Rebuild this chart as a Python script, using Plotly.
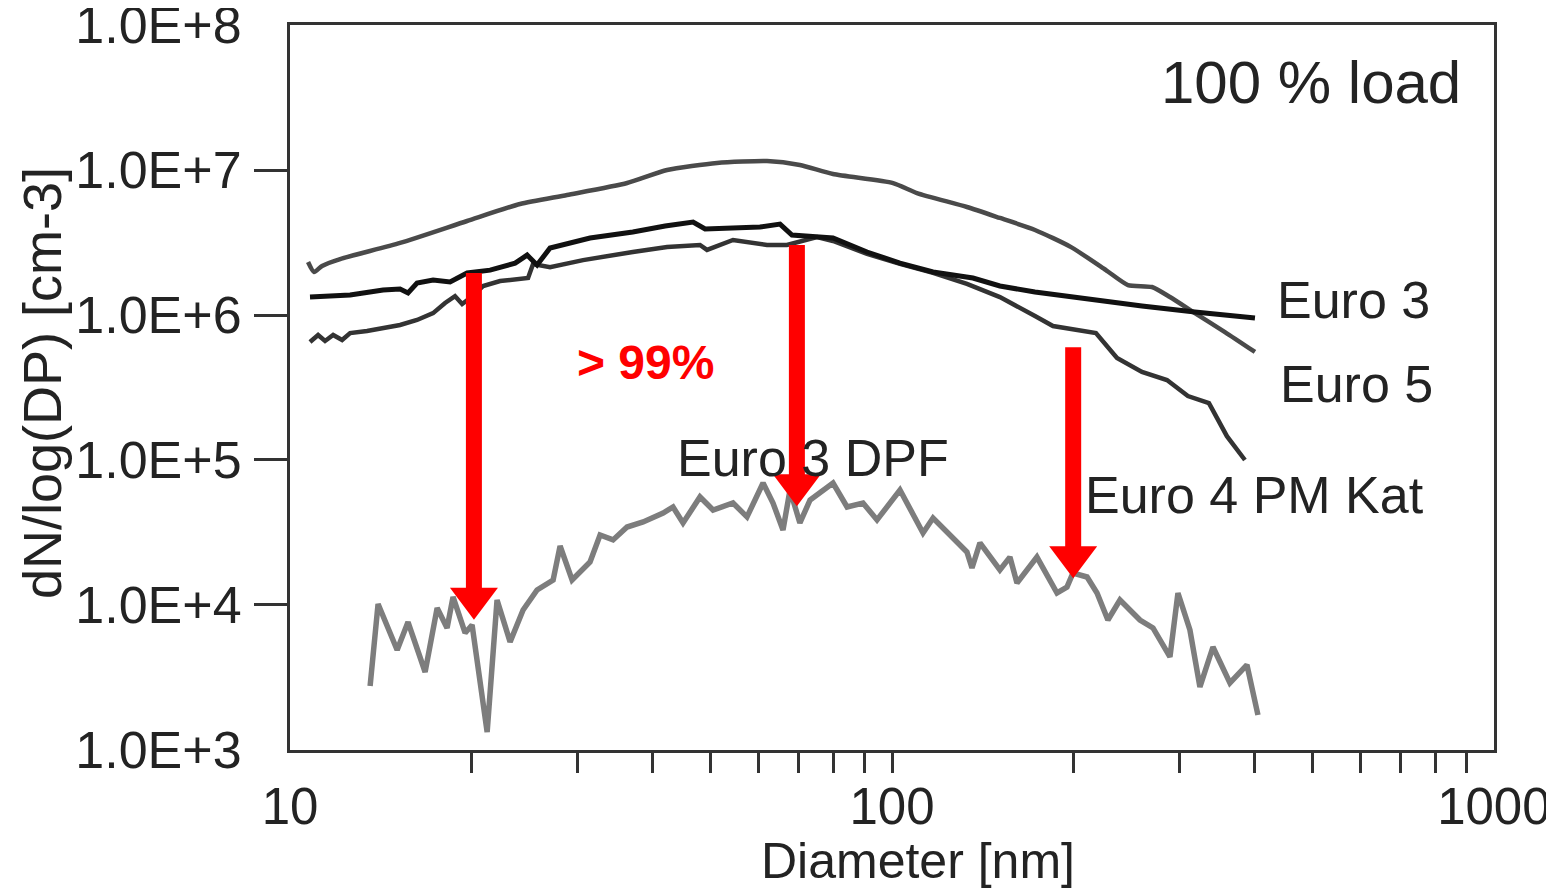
import plotly.graph_objects as go

# ---------------- data ----------------
e5_d = [10.71, 10.96, 11.30, 12.11, 15.23, 19.68, 24.1, 28.85, 36.3, 42.3, 51.2, 62.0, 70.3,
        79.8, 100.4, 110.0, 133.2, 151.1, 172.8, 198.4, 226.7, 246.6, 270.3, 289.6, 318.6,
        357.4, 400.9]
e5_n = [2.32e6, 1.98e6, 2.18e6, 2.43e6, 3.14e6, 4.45e6, 5.83e6, 6.72e6, 8.13e6, 1.0e7,
        1.118e7, 1.154e7, 1.083e7, 9.38e6, 8.13e6, 6.94e6, 5.56e6, 4.67e6, 3.86e6, 2.94e6,
        2.04e6, 1.61e6, 1.56e6, 1.33e6, 1.03e6, 7.63e5, 5.56e5]

e3_d = [10.79, 12.58, 14.27, 15.23, 15.70, 16.25, 17.28, 18.44, 19.68, 21.49, 23.65, 24.76,
        25.72, 27.03, 31.5, 37.1, 41.98, 46.72, 48.92, 54.43, 60.35, 65.16, 68.2, 79.8, 90.9,
        103.1, 117.0, 136.3, 151.1, 172.8, 198.4, 260.2, 318.6, 400.9]
e3_n = [1.33e6, 1.373e6, 1.487e6, 1.51e6, 1.42e6, 1.66e6, 1.743e6, 1.69e6, 1.95e6, 2.04e6,
        2.28e6, 2.59e6, 2.21e6, 2.90e6, 3.40e6, 3.74e6, 4.11e6, 4.38e6, 3.92e6, 3.98e6,
        4.04e6, 4.24e6, 3.56e6, 3.40e6, 2.72e6, 2.28e6, 1.98e6, 1.80e6, 1.585e6, 1.44e6,
        1.33e6, 1.154e6, 1.049e6, 9.54e5]

e4_d = [10.79, 11.13, 11.43, 11.79, 12.20, 12.58, 13.42, 14.27, 15.23, 16.25, 17.28, 18.09,
        18.79, 19.31, 19.91, 20.92, 22.33, 24.85, 25.33, 27.03, 30.67, 37.1, 42.3, 47.97,
        49.28, 54.43, 62.0, 66.9, 75.07, 79.8, 90.9, 103.1, 117.0, 133.2, 151.1, 172.8,
        185.1, 218.2, 236.5, 260.2, 286.3, 310.2, 336.2, 360.1, 385.8]
e4_n = [6.51e5, 7.28e5, 6.62e5, 7.28e5, 6.72e5, 7.51e5, 7.76e5, 8.14e5, 8.53e5, 9.24e5,
        1.03e6, 1.21e6, 1.35e6, 1.19e6, 1.31e6, 1.585e6, 1.716e6, 1.80e6, 2.25e6, 2.14e6,
        2.39e6, 2.72e6, 2.94e6, 3.04e6, 2.81e6, 3.29e6, 3.04e6, 3.04e6, 3.45e6, 3.24e6,
        2.64e6, 2.25e6, 1.95e6, 1.64e6, 1.33e6, 9.84e5, 8.40e5, 7.51e5, 5.05e5, 4.05e5,
        3.56e5, 2.76e5, 2.47e5, 1.46e5, 1.0e5]

dpf_d = [13.58, 14.00, 15.06, 15.70, 16.76, 17.55, 18.23, 18.65, 19.53, 20.06, 21.25, 22.07,
         23.20, 24.38, 25.72, 27.35, 28.09, 29.41, 31.50, 32.73, 34.40, 36.29, 38.59, 41.66,
         43.27, 44.96, 47.97, 50.43, 54.43, 57.42, 61.06, 63.43, 65.90, 67.69, 70.3, 73.09,
         79.8, 84.21, 89.51, 94.43, 103.1, 112.6, 117.0, 133.2, 135.8, 140.0, 151.1, 157.0,
         161.3, 174.1, 188.0, 195.3, 199.8, 210.9, 219.1, 228.4, 239.2, 258.2, 271.4, 289.6,
         298.6, 312.6, 324.8, 341.4, 364.3, 388.8, 405.5]
dpf_n = [2.76e3, 1.016e4, 4.89e3, 7.63e3, 3.45e3, 9.54e3, 6.94e3, 1.136e4, 6.41e3, 7.28e3,
         1.33e3, 1.083e4, 5.56e3, 9.24e3, 1.269e4, 1.487e4, 2.55e4, 1.487e4, 1.98e4, 3.04e4,
         2.81e4, 3.45e4, 3.74e4, 4.31e4, 4.74e4, 3.68e4, 5.56e4, 4.52e4, 5.05e4, 4.05e4,
         6.94e4, 5.05e4, 3.29e4, 6.21e4, 3.68e4, 5.30e4, 6.94e4, 4.74e4, 5.05e4, 3.86e4,
         6.21e4, 3.14e4, 3.98e4, 2.32e4, 1.80e4, 2.68e4, 1.743e4, 2.14e4, 1.418e4, 2.14e4,
         1.21e4, 1.33e4, 1.66e4, 1.56e4, 1.21e4, 7.88e3, 1.083e4, 7.88e3, 6.94e3, 4.38e3,
         1.21e4, 6.72e3, 2.72e3, 5.13e3, 2.90e3, 3.86e3, 1.743e3]

# reduction arrows
arrow_d = [20.2, 69.5, 200.0]
arrow_top = [1.95e6, 3.04e6, 6.0e5]
arrow_shaft_end = [1.02e4, 6.19e4, 1.97e4]
arrow_tip = [7.9e3, 4.8e4, 1.53e4]

x_tickvals = [10, 100, 1000]
x_ticktext = ["10", "100", "1000"]
x_minor = [20, 30, 40, 50, 60, 70, 80, 90, 100, 200, 300, 400, 500, 600, 700, 800, 900]
y_tickvals = [1e3, 1e4, 1e5, 1e6, 1e7, 1e8]
y_ticktext = ["1.0E+3", "1.0E+4", "1.0E+5", "1.0E+6", "1.0E+7", "1.0E+8"]
y_marks = [1e4, 1e5, 1e6, 1e7]

FONT = "Liberation Sans, Arial, sans-serif"
TXT = "#232323"
AX = "#333333"
XR = [0.9998, 3.0002]
YR = [2.9998, 8.0002]

fig = go.Figure()
fig.add_trace(go.Scatter(x=dpf_d, y=dpf_n, mode="lines",
                         line=dict(color="#7d7d7d", width=5.5), hoverinfo="skip"))
fig.add_trace(go.Scatter(x=e5_d, y=e5_n, mode="lines",
                         line=dict(color="#4a4a4a", width=4.5, shape="spline", smoothing=0.6),
                         hoverinfo="skip"))
fig.add_trace(go.Scatter(x=e4_d, y=e4_n, mode="lines",
                         line=dict(color="#333333", width=4.5), hoverinfo="skip"))
fig.add_trace(go.Scatter(x=e3_d, y=e3_n, mode="lines",
                         line=dict(color="#111111", width=5), hoverinfo="skip"))
# carrier trace for the tick-mark axes
fig.add_trace(go.Scatter(x=[10], y=[1e3], xaxis="x2", yaxis="y2", mode="markers",
                         marker=dict(opacity=0), hoverinfo="skip"))

shapes = []
for d, top, se, tip in zip(arrow_d, arrow_top, arrow_shaft_end, arrow_tip):
    shapes.append(dict(type="line", xref="x", yref="y", x0=d, x1=d, y0=top, y1=se,
                       line=dict(color="#ff0000", width=16)))
    shapes.append(dict(type="path", xref="x", yref="y", xsizemode="pixel", ysizemode="pixel",
                       xanchor=d, yanchor=tip, path="M-24,32 L24,32 L0,0 Z",
                       fillcolor="#ff0000", line=dict(width=0)))

# positions in page pixels -> paper coords (plot area spans 290..1494 x 25..750)
def px(x):
    return (x - 290) / 1204.0

def py(y):
    return (750 - y) / 725.0

annotations = [
    dict(text="100 % load", x=px(1463), y=py(82), xanchor="right", yanchor="middle",
         font=dict(size=60)),
    dict(text="Euro 3", x=px(1275), y=py(300), xanchor="left", yanchor="middle",
         font=dict(size=52)),
    dict(text="Euro 5", x=px(1278), y=py(384), xanchor="left", yanchor="middle",
         font=dict(size=52)),
    dict(text="Euro 4 PM Kat", x=px(1083), y=py(495), xanchor="left", yanchor="middle",
         font=dict(size=52)),
    dict(text="Euro 3 DPF", x=px(675), y=py(458), xanchor="left", yanchor="middle",
         font=dict(size=52)),
    dict(text="<b>&gt; 99%</b>", x=px(575), y=py(363), xanchor="left", yanchor="middle",
         font=dict(size=48, color="#ff0000")),
    dict(text="dN/log(DP) [cm-3]", x=px(42), y=py(383), textangle=-90, xanchor="center",
         yanchor="middle", font=dict(size=54)),
    dict(text="Diameter [nm]", x=px(918), y=py(861), xanchor="center", yanchor="middle",
         font=dict(size=50)),
]
for a in annotations:
    a.update(xref="paper", yref="paper", showarrow=False)
    a["font"].setdefault("color", TXT)
    a["font"]["family"] = FONT

# the page body adds an 8px offset, so the figure is 8px smaller and shifted
fig.update_layout(
    width=1546, height=881,
    margin=dict(l=282, r=60, t=17, b=139),
    paper_bgcolor="white", plot_bgcolor="white",
    showlegend=False,
    font=dict(family=FONT, color=TXT),
    xaxis=dict(type="log", range=XR, tickmode="array", tickvals=x_tickvals,
               ticktext=x_ticktext, ticks="outside", ticklen=10, tickcolor="rgba(0,0,0,0)",
               tickfont=dict(size=51, color=TXT, family=FONT), automargin=False,
               ticklabeloverflow="allow",
               showline=True, linecolor=AX, linewidth=3, mirror=True,
               showgrid=False, zeroline=False),
    yaxis=dict(type="log", range=YR, tickmode="array", tickvals=y_tickvals,
               ticktext=y_ticktext, ticks="outside", ticklen=35, tickcolor="rgba(0,0,0,0)",
               tickfont=dict(size=52, color=TXT, family=FONT), automargin=False,
               ticklabeloverflow="allow",
               showline=True, linecolor=AX, linewidth=3, mirror=True,
               showgrid=False, zeroline=False),
    xaxis2=dict(type="log", range=XR, overlaying="x", anchor="y2", side="bottom",
                tickmode="array", tickvals=x_minor, ticks="outside", ticklen=22,
                tickwidth=3, tickcolor=AX, showticklabels=False, showline=False,
                showgrid=False, zeroline=False, automargin=False),
    yaxis2=dict(type="log", range=YR, overlaying="y", anchor="x2", side="left",
                tickmode="array", tickvals=y_marks, ticks="outside", ticklen=35,
                tickwidth=3, tickcolor=AX, showticklabels=False, showline=False,
                showgrid=False, zeroline=False, automargin=False),
    shapes=shapes,
    annotations=annotations,
)

fig.write_html("out.html")
